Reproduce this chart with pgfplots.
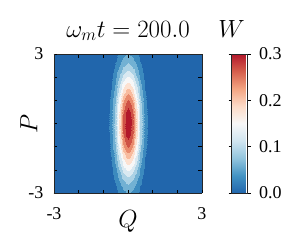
\documentclass[border=0pt]{standalone}
\usepackage{fontspec}
\setmainfont{Liberation Serif}
\usepackage{pgfplots}
\pgfplotsset{compat=1.18}
\pgfplotsset{colormap={rdbu}{rgb255=(33,102,172) rgb255=(67,147,195) rgb255=(146,197,222) rgb255=(209,229,240) rgb255=(247,247,247) rgb255=(253,219,199) rgb255=(244,165,130) rgb255=(214,96,77) rgb255=(178,24,43)}}
\begin{document}
\begin{tikzpicture}
\useasboundingbox (-54pt,-57pt) rectangle (246pt,193pt);
\begin{axis}[
 at={(0pt,0pt)}, anchor=south west,
 scale only axis, width=148pt, height=139pt,
 view={0}{90},
 xmin=-3,xmax=3,ymin=-3,ymax=3,
 colormap name=rdbu,
 point meta min=0, point meta max=0.3,
 xtick={-3,-2,-1,0,1,2,3}, xticklabels={-3,,,,,,3},
 ytick={-3,-2,-1,0,1,2,3}, yticklabels={-3,,,,,,3},
 ztick=\empty,
 xtick pos=both, ytick pos=both,
 tick align=inside,
 major tick length=3.5pt,
 tick style={black, line width=0.6pt},
 axis line style={line width=0.8pt, black!85},
 xticklabel style={font=\fontsize{18}{18}\selectfont, yshift=-11pt},
 yticklabel style={font=\fontsize{18}{18}\selectfont, xshift=-7pt},
 xlabel={$Q$}, ylabel={$P$},
 every axis x label/.style={at={(axis description cs:0.5,0)}, anchor=base, yshift=-34pt, font=\fontsize{25}{25}\selectfont},
 every axis y label/.style={at={(axis description cs:-0.169,0.5)}, anchor=center, rotate=90, font=\fontsize{25}{25}\selectfont},
 title={$\omega_m t=200.0$},
 every axis title/.style={at={(axis description cs:0.5,1)}, anchor=base, yshift=17pt, font=\fontsize{25}{25}\selectfont},
]
\addplot3[contour filled={levels={0,0.0289,0.0578,0.0867,0.1156,0.1445,0.1735,0.2024,0.2313,0.2602,0.2891}}] coordinates {
(-3,-3,0) (-1.3,-3,0.0001) (-1,-3,0.0010) (-0.9,-3,0.0021) (-0.8,-3,0.0042) (-0.7,-3,0.0078) (-0.6,-3,0.0132) (-0.5,-3,0.0206) (-0.4,-3,0.0298) (-0.3,-3,0.0397) (-0.2,-3,0.0486) (-0.1,-3,0.0550) (0,-3,0.0573) (0.1,-3,0.0550) (0.2,-3,0.0486) (0.3,-3,0.0397) (0.4,-3,0.0298) (0.5,-3,0.0206) (0.6,-3,0.0132) (0.7,-3,0.0078) (0.8,-3,0.0042) (0.9,-3,0.0021) (1,-3,0.0010) (1.3,-3,0.0001) (3,-3,0)

(-3,-2.5,0) (-1.3,-2.5,0.0001) (-1,-2.5,0.0016) (-0.9,-2.5,0.0035) (-0.8,-2.5,0.0071) (-0.7,-2.5,0.0131) (-0.6,-2.5,0.0222) (-0.5,-2.5,0.0348) (-0.4,-2.5,0.0503) (-0.3,-2.5,0.0670) (-0.2,-2.5,0.0821) (-0.1,-2.5,0.0928) (0,-2.5,0.0967) (0.1,-2.5,0.0928) (0.2,-2.5,0.0821) (0.3,-2.5,0.0670) (0.4,-2.5,0.0503) (0.5,-2.5,0.0348) (0.6,-2.5,0.0222) (0.7,-2.5,0.0131) (0.8,-2.5,0.0071) (0.9,-2.5,0.0035) (1,-2.5,0.0016) (1.3,-2.5,0.0001) (3,-2.5,0)

(-3,-2,0) (-1.3,-2,0.0001) (-1,-2,0.0025) (-0.9,-2,0.0054) (-0.8,-2,0.0109) (-0.7,-2,0.0201) (-0.6,-2,0.0341) (-0.5,-2,0.0534) (-0.4,-2,0.0772) (-0.3,-2,0.1028) (-0.2,-2,0.1260) (-0.1,-2,0.1425) (0,-2,0.1484) (0.1,-2,0.1425) (0.2,-2,0.1260) (0.3,-2,0.1028) (0.4,-2,0.0772) (0.5,-2,0.0534) (0.6,-2,0.0341) (0.7,-2,0.0201) (0.8,-2,0.0109) (0.9,-2,0.0054) (1,-2,0.0025) (1.3,-2,0.0001) (3,-2,0)

(-3,-1.5,0) (-1.3,-1.5,0.0002) (-1,-1.5,0.0035) (-0.9,-1.5,0.0076) (-0.8,-1.5,0.0152) (-0.7,-1.5,0.0280) (-0.6,-1.5,0.0476) (-0.5,-1.5,0.0746) (-0.4,-1.5,0.1077) (-0.3,-1.5,0.1435) (-0.2,-1.5,0.1758) (-0.1,-1.5,0.1988) (0,-1.5,0.2071) (0.1,-1.5,0.1988) (0.2,-1.5,0.1758) (0.3,-1.5,0.1435) (0.4,-1.5,0.1077) (0.5,-1.5,0.0746) (0.6,-1.5,0.0476) (0.7,-1.5,0.0280) (0.8,-1.5,0.0152) (0.9,-1.5,0.0076) (1,-1.5,0.0035) (1.3,-1.5,0.0002) (3,-1.5,0)

(-3,-1.25,0) (-1.3,-1.25,0.0002) (-1,-1.25,0.0040) (-0.9,-1.25,0.0087) (-0.8,-1.25,0.0173) (-0.7,-1.25,0.0320) (-0.6,-1.25,0.0543) (-0.5,-1.25,0.0850) (-0.4,-1.25,0.1228) (-0.3,-1.25,0.1637) (-0.2,-1.25,0.2005) (-0.1,-1.25,0.2268) (0,-1.25,0.2362) (0.1,-1.25,0.2268) (0.2,-1.25,0.2005) (0.3,-1.25,0.1637) (0.4,-1.25,0.1228) (0.5,-1.25,0.0850) (0.6,-1.25,0.0543) (0.7,-1.25,0.0320) (0.8,-1.25,0.0173) (0.9,-1.25,0.0087) (1,-1.25,0.0040) (1.3,-1.25,0.0002) (3,-1.25,0)

(-3,-1,0) (-1.3,-1,0.0003) (-1,-1,0.0044) (-0.9,-1,0.0096) (-0.8,-1,0.0193) (-0.7,-1,0.0356) (-0.6,-1,0.0604) (-0.5,-1,0.0946) (-0.4,-1,0.1367) (-0.3,-1,0.1821) (-0.2,-1,0.2231) (-0.1,-1,0.2523) (0,-1,0.2628) (0.1,-1,0.2523) (0.2,-1,0.2231) (0.3,-1,0.1821) (0.4,-1,0.1367) (0.5,-1,0.0946) (0.6,-1,0.0604) (0.7,-1,0.0356) (0.8,-1,0.0193) (0.9,-1,0.0096) (1,-1,0.0044) (1.3,-1,0.0003) (3,-1,0)

(-3,-0.75,0) (-1.3,-0.75,0.0003) (-1,-0.75,0.0048) (-0.9,-0.75,0.0105) (-0.8,-0.75,0.0210) (-0.7,-0.75,0.0386) (-0.6,-0.75,0.0657) (-0.5,-0.75,0.1028) (-0.4,-0.75,0.1485) (-0.3,-0.75,0.1979) (-0.2,-0.75,0.2425) (-0.1,-0.75,0.2742) (0,-0.75,0.2856) (0.1,-0.75,0.2742) (0.2,-0.75,0.2425) (0.3,-0.75,0.1979) (0.4,-0.75,0.1485) (0.5,-0.75,0.1028) (0.6,-0.75,0.0657) (0.7,-0.75,0.0386) (0.8,-0.75,0.0210) (0.9,-0.75,0.0105) (1,-0.75,0.0048) (1.3,-0.75,0.0003) (3,-0.75,0)

(-3,-0.5,0) (-1.3,-0.5,0.0003) (-1,-0.5,0.0051) (-0.9,-0.5,0.0111) (-0.8,-0.5,0.0223) (-0.7,-0.5,0.0410) (-0.6,-0.5,0.0697) (-0.5,-0.5,0.1092) (-0.4,-0.5,0.1577) (-0.3,-0.5,0.2101) (-0.2,-0.5,0.2574) (-0.1,-0.5,0.2911) (0,-0.5,0.3032) (0.1,-0.5,0.2911) (0.2,-0.5,0.2574) (0.3,-0.5,0.2101) (0.4,-0.5,0.1577) (0.5,-0.5,0.1092) (0.6,-0.5,0.0697) (0.7,-0.5,0.0410) (0.8,-0.5,0.0223) (0.9,-0.5,0.0111) (1,-0.5,0.0051) (1.3,-0.5,0.0003) (3,-0.5,0)

(-3,-0.25,0) (-1.3,-0.25,0.0003) (-1,-0.25,0.0053) (-0.9,-0.25,0.0115) (-0.8,-0.25,0.0231) (-0.7,-0.25,0.0425) (-0.6,-0.25,0.0723) (-0.5,-0.25,0.1131) (-0.4,-0.25,0.1634) (-0.3,-0.25,0.2177) (-0.2,-0.25,0.2668) (-0.1,-0.25,0.3016) (0,-0.25,0.3142) (0.1,-0.25,0.3016) (0.2,-0.25,0.2668) (0.3,-0.25,0.2177) (0.4,-0.25,0.1634) (0.5,-0.25,0.1131) (0.6,-0.25,0.0723) (0.7,-0.25,0.0425) (0.8,-0.25,0.0231) (0.9,-0.25,0.0115) (1,-0.25,0.0053) (1.3,-0.25,0.0003) (3,-0.25,0)

(-3,0,0) (-1.3,0,0.0003) (-1,0,0.0054) (-0.9,0,0.0117) (-0.8,0,0.0233) (-0.7,0,0.0430) (-0.6,0,0.0731) (-0.5,0,0.1145) (-0.4,0,0.1654) (-0.3,0,0.2204) (-0.2,0,0.2700) (-0.1,0,0.3053) (0,0,0.3180) (0.1,0,0.3053) (0.2,0,0.2700) (0.3,0,0.2204) (0.4,0,0.1654) (0.5,0,0.1145) (0.6,0,0.0731) (0.7,0,0.0430) (0.8,0,0.0233) (0.9,0,0.0117) (1,0,0.0054) (1.3,0,0.0003) (3,0,0)

(-3,0.25,0) (-1.3,0.25,0.0003) (-1,0.25,0.0053) (-0.9,0.25,0.0115) (-0.8,0.25,0.0231) (-0.7,0.25,0.0425) (-0.6,0.25,0.0723) (-0.5,0.25,0.1131) (-0.4,0.25,0.1634) (-0.3,0.25,0.2177) (-0.2,0.25,0.2668) (-0.1,0.25,0.3016) (0,0.25,0.3142) (0.1,0.25,0.3016) (0.2,0.25,0.2668) (0.3,0.25,0.2177) (0.4,0.25,0.1634) (0.5,0.25,0.1131) (0.6,0.25,0.0723) (0.7,0.25,0.0425) (0.8,0.25,0.0231) (0.9,0.25,0.0115) (1,0.25,0.0053) (1.3,0.25,0.0003) (3,0.25,0)

(-3,0.5,0) (-1.3,0.5,0.0003) (-1,0.5,0.0051) (-0.9,0.5,0.0111) (-0.8,0.5,0.0223) (-0.7,0.5,0.0410) (-0.6,0.5,0.0697) (-0.5,0.5,0.1092) (-0.4,0.5,0.1577) (-0.3,0.5,0.2101) (-0.2,0.5,0.2574) (-0.1,0.5,0.2911) (0,0.5,0.3032) (0.1,0.5,0.2911) (0.2,0.5,0.2574) (0.3,0.5,0.2101) (0.4,0.5,0.1577) (0.5,0.5,0.1092) (0.6,0.5,0.0697) (0.7,0.5,0.0410) (0.8,0.5,0.0223) (0.9,0.5,0.0111) (1,0.5,0.0051) (1.3,0.5,0.0003) (3,0.5,0)

(-3,0.75,0) (-1.3,0.75,0.0003) (-1,0.75,0.0048) (-0.9,0.75,0.0105) (-0.8,0.75,0.0210) (-0.7,0.75,0.0386) (-0.6,0.75,0.0657) (-0.5,0.75,0.1028) (-0.4,0.75,0.1485) (-0.3,0.75,0.1979) (-0.2,0.75,0.2425) (-0.1,0.75,0.2742) (0,0.75,0.2856) (0.1,0.75,0.2742) (0.2,0.75,0.2425) (0.3,0.75,0.1979) (0.4,0.75,0.1485) (0.5,0.75,0.1028) (0.6,0.75,0.0657) (0.7,0.75,0.0386) (0.8,0.75,0.0210) (0.9,0.75,0.0105) (1,0.75,0.0048) (1.3,0.75,0.0003) (3,0.75,0)

(-3,1,0) (-1.3,1,0.0003) (-1,1,0.0044) (-0.9,1,0.0096) (-0.8,1,0.0193) (-0.7,1,0.0356) (-0.6,1,0.0604) (-0.5,1,0.0946) (-0.4,1,0.1367) (-0.3,1,0.1821) (-0.2,1,0.2231) (-0.1,1,0.2523) (0,1,0.2628) (0.1,1,0.2523) (0.2,1,0.2231) (0.3,1,0.1821) (0.4,1,0.1367) (0.5,1,0.0946) (0.6,1,0.0604) (0.7,1,0.0356) (0.8,1,0.0193) (0.9,1,0.0096) (1,1,0.0044) (1.3,1,0.0003) (3,1,0)

(-3,1.25,0) (-1.3,1.25,0.0002) (-1,1.25,0.0040) (-0.9,1.25,0.0087) (-0.8,1.25,0.0173) (-0.7,1.25,0.0320) (-0.6,1.25,0.0543) (-0.5,1.25,0.0850) (-0.4,1.25,0.1228) (-0.3,1.25,0.1637) (-0.2,1.25,0.2005) (-0.1,1.25,0.2268) (0,1.25,0.2362) (0.1,1.25,0.2268) (0.2,1.25,0.2005) (0.3,1.25,0.1637) (0.4,1.25,0.1228) (0.5,1.25,0.0850) (0.6,1.25,0.0543) (0.7,1.25,0.0320) (0.8,1.25,0.0173) (0.9,1.25,0.0087) (1,1.25,0.0040) (1.3,1.25,0.0002) (3,1.25,0)

(-3,1.5,0) (-1.3,1.5,0.0002) (-1,1.5,0.0035) (-0.9,1.5,0.0076) (-0.8,1.5,0.0152) (-0.7,1.5,0.0280) (-0.6,1.5,0.0476) (-0.5,1.5,0.0746) (-0.4,1.5,0.1077) (-0.3,1.5,0.1435) (-0.2,1.5,0.1758) (-0.1,1.5,0.1988) (0,1.5,0.2071) (0.1,1.5,0.1988) (0.2,1.5,0.1758) (0.3,1.5,0.1435) (0.4,1.5,0.1077) (0.5,1.5,0.0746) (0.6,1.5,0.0476) (0.7,1.5,0.0280) (0.8,1.5,0.0152) (0.9,1.5,0.0076) (1,1.5,0.0035) (1.3,1.5,0.0002) (3,1.5,0)

(-3,2,0) (-1.3,2,0.0001) (-1,2,0.0025) (-0.9,2,0.0054) (-0.8,2,0.0109) (-0.7,2,0.0201) (-0.6,2,0.0341) (-0.5,2,0.0534) (-0.4,2,0.0772) (-0.3,2,0.1028) (-0.2,2,0.1260) (-0.1,2,0.1425) (0,2,0.1484) (0.1,2,0.1425) (0.2,2,0.1260) (0.3,2,0.1028) (0.4,2,0.0772) (0.5,2,0.0534) (0.6,2,0.0341) (0.7,2,0.0201) (0.8,2,0.0109) (0.9,2,0.0054) (1,2,0.0025) (1.3,2,0.0001) (3,2,0)

(-3,2.5,0) (-1.3,2.5,0.0001) (-1,2.5,0.0016) (-0.9,2.5,0.0035) (-0.8,2.5,0.0071) (-0.7,2.5,0.0131) (-0.6,2.5,0.0222) (-0.5,2.5,0.0348) (-0.4,2.5,0.0503) (-0.3,2.5,0.0670) (-0.2,2.5,0.0821) (-0.1,2.5,0.0928) (0,2.5,0.0967) (0.1,2.5,0.0928) (0.2,2.5,0.0821) (0.3,2.5,0.0670) (0.4,2.5,0.0503) (0.5,2.5,0.0348) (0.6,2.5,0.0222) (0.7,2.5,0.0131) (0.8,2.5,0.0071) (0.9,2.5,0.0035) (1,2.5,0.0016) (1.3,2.5,0.0001) (3,2.5,0)

(-3,3,0) (-1.3,3,0.0001) (-1,3,0.0010) (-0.9,3,0.0021) (-0.8,3,0.0042) (-0.7,3,0.0078) (-0.6,3,0.0132) (-0.5,3,0.0206) (-0.4,3,0.0298) (-0.3,3,0.0397) (-0.2,3,0.0486) (-0.1,3,0.0550) (0,3,0.0573) (0.1,3,0.0550) (0.2,3,0.0486) (0.3,3,0.0397) (0.4,3,0.0298) (0.5,3,0.0206) (0.6,3,0.0132) (0.7,3,0.0078) (0.8,3,0.0042) (0.9,3,0.0021) (1,3,0.0010) (1.3,3,0.0001) (3,3,0)
};
\end{axis}
\begin{axis}[
 at={(0pt,0pt)}, anchor=south west,
 scale only axis, width=148pt, height=139pt,
 xmin=0,xmax=1,ymin=0,ymax=1,
 hide axis,
 colormap name=rdbu,
 point meta min=0, point meta max=0.3,
 colorbar,
 colorbar style={
   at={(parent axis.north east)}, anchor=north west, xshift=21pt,
   width=16pt,
   ytick={0,0.1,0.2,0.3},
   yticklabel style={font=\fontsize{18}{18}\selectfont, /pgf/number format/fixed, /pgf/number format/fixed zerofill, /pgf/number format/precision=1, /pgf/number format/assume math mode=true, xshift=5pt},
   tick align=outside, major tick length=3pt,
   tick style={black, line width=0.6pt},
   axis line style={line width=0.8pt, black!85},
   title={$W$},
   every axis title/.style={at={(0.5,1)}, anchor=base, yshift=17pt, xshift=-8pt, font=\fontsize{25}{25}\selectfont},
 },
]
\end{axis}
\end{tikzpicture}
\end{document}
